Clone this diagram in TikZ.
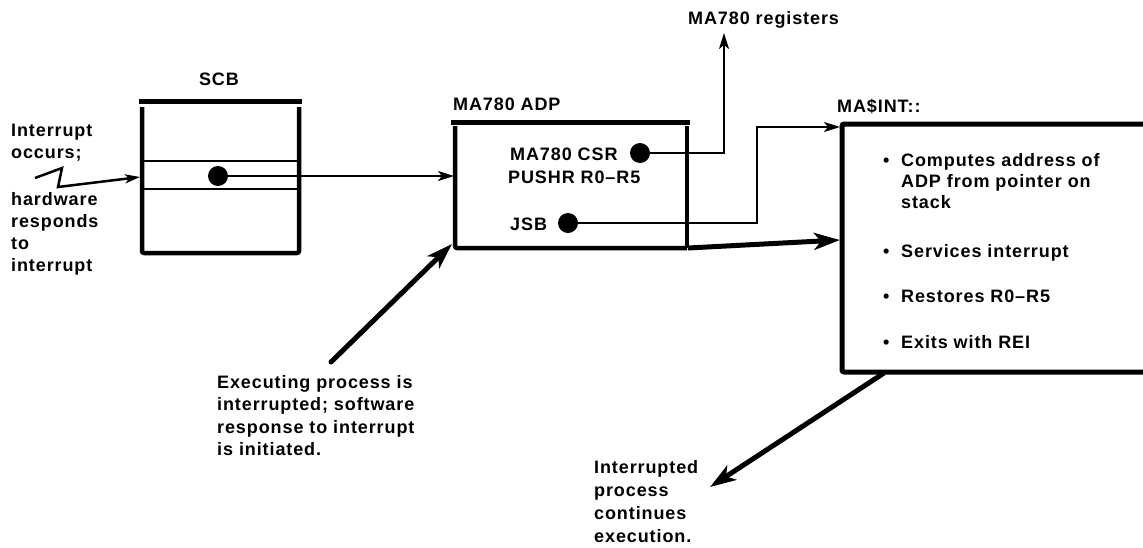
\documentclass[tikz,border=0pt]{standalone}
\usepackage{fontspec}
\setmainfont{Liberation Sans}[LetterSpace=5]
\usetikzlibrary{arrows.meta}
\tikzset{
  txt/.style={anchor=base west, inner sep=0pt, font=\fontsize{18}{22}\selectfont\bfseries},
  wall/.style={line width=4.5pt, line join=round, rounded corners=2pt},
  bar/.style={line width=5pt},
  thinline/.style={line width=2pt},
  dotnode/.style={circle, fill=black, inner sep=0pt, minimum size=20pt},
  thinarrow/.style={line width=2pt, -{Stealth[length=16pt,width=10pt,inset=4pt]}},
  bigarrow/.style={line width=5pt, line cap=round, -{Stealth[length=26pt,width=17pt,inset=7pt]}},
}
\begin{document}
\begin{tikzpicture}[x=1pt,y=-1pt]
\path[use as bounding box] (0,0) rectangle (1143,547);

% ---------------- SCB ----------------
\node[txt, anchor=base] (scbL) at (219,85) {SCB};
\draw[bar] (139,101) -- (302,101);
\draw[wall] (142,107) -- (142,253) -- (299,253) -- (299,107);
\draw[thinline] (142,161) -- (299,161);
\draw[thinline] (142,189) -- (299,189);
\node[dotnode] (scbDot) at (218,176) {};

% left text
\node[txt] (t1) at (11,136.5) {Interrupt};
\node[txt] (t2) at (11,158.5) {occurs;};
\node[txt] (t3) at (11,205) {hardware};
\node[txt] (t4) at (11,227) {responds};
\node[txt] (t5) at (11,249) {to};
\node[txt] (t6) at (11,271.5) {interrupt};

% zigzag
\coordinate (zz0) at (35,178);
\coordinate (zz1) at (62,168);
\coordinate (zz2) at (58,187);
\coordinate (scbIn) at (140,177);
\draw[line width=2.5pt, line join=miter, -{Stealth[length=15pt,width=9pt,inset=4pt]}]
  (zz0) -- (zz1) -- (zz2) -- (scbIn);

% ---------------- MA780 ADP ----------------
\node[txt] (adpL) at (453,110) {MA780 ADP};
\draw[bar] (451,122.5) -- (690,122.5);
\draw[wall] (455,126) -- (455,248) -- (687,248);
\draw[wall] (687,126) -- (687,248);
\coordinate (adpIn) at (454,176);
\draw[thinarrow] (scbDot) -- (adpIn);

\node[txt] (csr) at (510,160) {MA780 CSR};
\node[txt] (push) at (508,183) {PUSHR R0--R5};
\node[txt] (jsb) at (510,230) {JSB};
\node[dotnode] (csrDot) at (640,153) {};
\node[dotnode] (jsbDot) at (568,223) {};

\node[txt] (regs) at (688,24) {MA780 registers};
\coordinate (csrBend) at (724,153);
\coordinate (regsTip) at (724,33);
\draw[thinarrow] (csrDot) -- (csrBend) -- (regsTip);

% ---------------- MA$INT ----------------
\node[txt] (intL) at (837,112) {MA\$INT::};
\draw[wall, line width=5pt] (1145,124) -- (842,124) -- (842,372) -- (1145,372);

\coordinate (jsbB1) at (757,223);
\coordinate (jsbB2) at (757,127);
\coordinate (intIn1) at (840,127);
\draw[thinarrow] (jsbDot) -- (jsbB1) -- (jsbB2) -- (intIn1);

\coordinate (adpBR) at (688,248);
\coordinate (intIn2) at (840,240);
\draw[bigarrow, line cap=butt] (adpBR) -- (intIn2);

\node[txt] (b1) at (883,166) {•};
\node[txt] (l1) at (901,166) {Computes address of};
\node[txt] (l2) at (901,187) {ADP from pointer on};
\node[txt] (l3) at (901,208) {stack};
\node[txt] (b2) at (883,257) {•};
\node[txt] (l4) at (901,257) {Services interrupt};
\node[txt] (b3) at (883,302.5) {•};
\node[txt] (l5) at (901,302.5) {Restores R0--R5};
\node[txt] (b4) at (883,348) {•};
\node[txt] (l6) at (901,348) {Exits with REI};

% ---------------- bottom texts and arrows ----------------
\node[txt] (e1) at (217,388) {Executing process is};
\node[txt] (e2) at (217,410.5) {interrupted; software};
\node[txt] (e3) at (217,433) {response to interrupt};
\node[txt] (e4) at (217,455.5) {is initiated.};
\coordinate (execTail) at (331,362);
\coordinate (adpCorner) at (452,244);
\draw[bigarrow] (execTail) -- (adpCorner);

\node[txt] (c1) at (594,473) {Interrupted};
\node[txt] (c2) at (594,496) {process};
\node[txt] (c3) at (594,519) {continues};
\node[txt] (c4) at (594,542) {execution.};
\coordinate (intBot) at (884,373);
\coordinate (contTip) at (710,487);
\draw[bigarrow, line cap=butt] (intBot) -- (contTip);
\end{tikzpicture}
\end{document}
